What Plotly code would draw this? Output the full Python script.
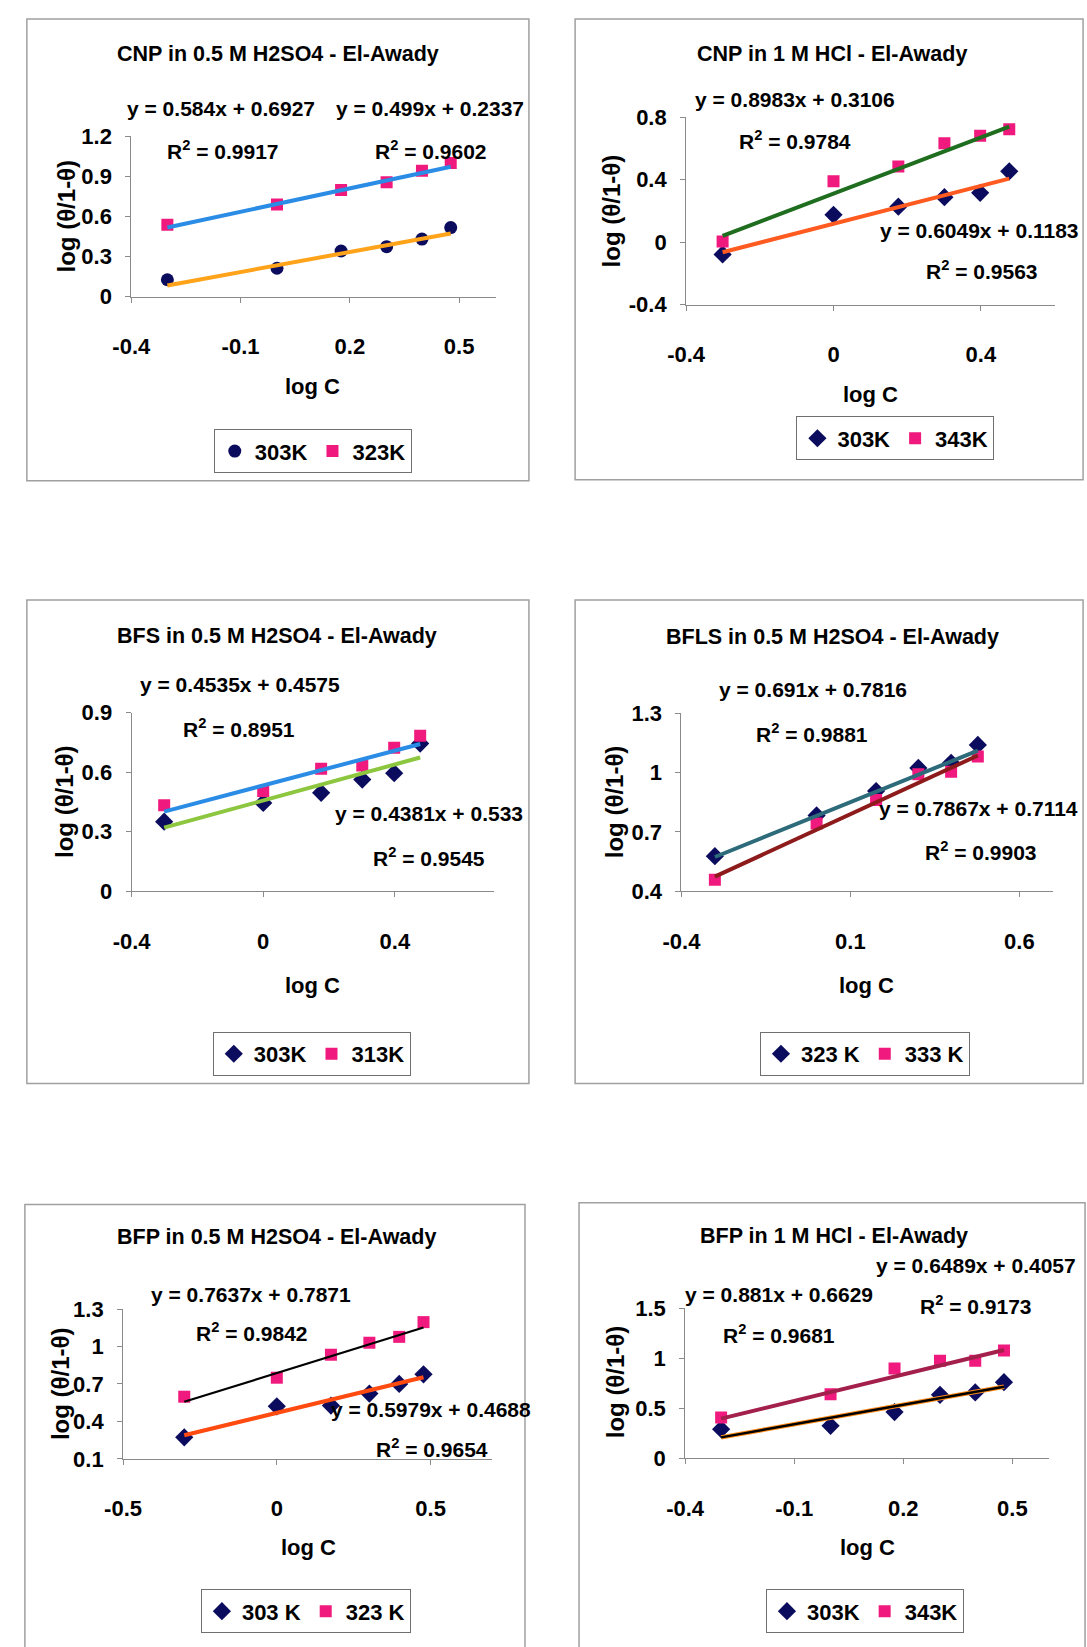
import plotly.graph_objects as go

W, H = 1087, 1647

# ---------------- data ----------------
logC = [-0.301, 0.0, 0.176, 0.301, 0.398, 0.477]

cnp_h2so4_303K = [0.126, 0.212, 0.341, 0.373, 0.430, 0.516]
cnp_h2so4_323K = [0.538, 0.689, 0.797, 0.854, 0.941, 0.998]
cnp_hcl_303K = [-0.078, 0.175, 0.227, 0.288, 0.316, 0.453]
cnp_hcl_343K = [0.004, 0.389, 0.484, 0.632, 0.680, 0.722]
bfs_h2so4_303K = [0.351, 0.445, 0.496, 0.563, 0.595, 0.744]
bfs_h2so4_313K = [0.434, 0.505, 0.617, 0.634, 0.723, 0.783]
bfls_h2so4_323K = [0.578, 0.784, 0.907, 1.024, 1.050, 1.140]
bfls_h2so4_333K = [0.459, 0.743, 0.862, 0.992, 1.005, 1.081]
bfp_h2so4_303K = [0.273, 0.521, 0.527, 0.623, 0.700, 0.777]
bfp_h2so4_323K = [0.598, 0.750, 0.934, 1.030, 1.077, 1.195]
bfp_hcl_303K = [0.292, 0.326, 0.463, 0.635, 0.659, 0.762]
bfp_hcl_343K = [0.408, 0.642, 0.899, 0.975, 0.975, 1.078]

# trendline equations printed on the chart: (slope, intercept, R2)
eq_cnp_h2so4_303K = (0.499, 0.2337, 0.9602)
eq_cnp_h2so4_323K = (0.584, 0.6927, 0.9917)
eq_cnp_hcl_303K = (0.6049, 0.1183, 0.9563)
eq_cnp_hcl_343K = (0.8983, 0.3106, 0.9784)
eq_bfs_h2so4_303K = (0.4535, 0.4575, 0.8951)
eq_bfs_h2so4_313K = (0.4381, 0.533, 0.9545)
eq_bfls_h2so4_323K = (0.691, 0.7816, 0.9881)
eq_bfls_h2so4_333K = (0.7867, 0.7114, 0.9903)
eq_bfp_h2so4_303K = (0.5979, 0.4688, 0.9654)
eq_bfp_h2so4_323K = (0.7637, 0.7871, 0.9842)
eq_bfp_hcl_303K = (0.6489, 0.4057, 0.9173)
eq_bfp_hcl_343K = (0.881, 0.6629, 0.9681)

titles = ["CNP in 0.5 M H2SO4 - El-Awady", "CNP in 1 M HCl - El-Awady",
          "BFS in 0.5 M H2SO4 - El-Awady", "BFLS in 0.5 M H2SO4 - El-Awady",
          "BFP in 0.5 M H2SO4 - El-Awady", "BFP in 1 M HCl - El-Awady"]

p1_xticks = [-0.4, -0.1, 0.2, 0.5]; p1_xlabels = ["-0.4", "-0.1", "0.2", "0.5"]
p1_yticks = [0, 0.3, 0.6, 0.9, 1.2]; p1_ylabels = ["0", "0.3", "0.6", "0.9", "1.2"]
p2_xticks = [-0.4, 0, 0.4]; p2_xlabels = ["-0.4", "0", "0.4"]
p2_yticks = [-0.4, 0, 0.4, 0.8]; p2_ylabels = ["-0.4", "0", "0.4", "0.8"]
p3_xticks = [-0.4, 0, 0.4]; p3_xlabels = ["-0.4", "0", "0.4"]
p3_yticks = [0, 0.3, 0.6, 0.9]; p3_ylabels = ["0", "0.3", "0.6", "0.9"]
p4_xticks = [-0.4, 0.1, 0.6]; p4_xlabels = ["-0.4", "0.1", "0.6"]
p4_yticks = [0.4, 0.7, 1.0, 1.3]; p4_ylabels = ["0.4", "0.7", "1", "1.3"]
p5_xticks = [-0.5, 0, 0.5]; p5_xlabels = ["-0.5", "0", "0.5"]
p5_yticks = [0.1, 0.4, 0.7, 1.0, 1.3]; p5_ylabels = ["0.1", "0.4", "0.7", "1", "1.3"]
p6_xticks = [-0.4, -0.1, 0.2, 0.5]; p6_xlabels = ["-0.4", "-0.1", "0.2", "0.5"]
p6_yticks = [0, 0.5, 1.0, 1.5]; p6_ylabels = ["0", "0.5", "1", "1.5"]

# ---------------- styles ----------------
NAVY = "#0C0C5E"
PINK = "#F0197D"
FONT = "Arial, Liberation Sans, sans-serif"
FS_TITLE = 21.5
FS_EQ = 21
FS_TICK = 22
FS_AXT = 22
FS_YT = 24
FS_LEG = 22
AX = "#8A8A8A"
BOX = "#A0A0A0"


def eqtext(e):
    return f"y = {e[0]}x + {e[1]}"


def r2text(e):
    return f"R<sup>2</sup> = {e[2]}"


panels = [
    dict(box=(8, 7, 519, 476), plot=(114.3, 126, 485, 289), xr=[-0.4, 0.6], yr=[0, 1.2],
         xt=(p1_xticks, p1_xlabels), yt=(p1_yticks, p1_ylabels), title=(263.7, 43),
         ytitle=(48, 207.5), xtitle=(299, 380), legend=(299, 446),
         series=[("303K", cnp_h2so4_303K, "circle", 13, eq_cnp_h2so4_303K, [("#FFA31A", 4)]),
                 ("323K", cnp_h2so4_323K, "square", 12, eq_cnp_h2so4_323K, [("#2B8CE6", 4)])],
         notes=[(eqtext(eq_cnp_h2so4_323K), 206, 98), (r2text(eq_cnp_h2so4_323K), 208, 140),
                (eqtext(eq_cnp_h2so4_303K), 418, 98), (r2text(eq_cnp_h2so4_303K), 419, 140)]),
    dict(box=(566, 7, 1083, 475), plot=(679, 106.7, 1054, 297.3), xr=[-0.4, 0.6], yr=[-0.4, 0.8],
         xt=(p2_xticks, p2_xlabels), yt=(p2_yticks, p2_ylabels), title=(827, 43),
         ytitle=(603, 202), xtitle=(867, 388), legend=(892, 433),
         series=[("303K", cnp_hcl_303K, "diamond", 14, eq_cnp_hcl_303K, [("#FF5A1F", 4)]),
                 ("343K", cnp_hcl_343K, "square", 12, eq_cnp_hcl_343K, [("#1F6E1F", 4)])],
         notes=[(eqtext(eq_cnp_hcl_343K), 790, 89), (r2text(eq_cnp_hcl_343K), 790, 130),
                (eqtext(eq_cnp_hcl_303K), 978, 222), (r2text(eq_cnp_hcl_303K), 980, 262)]),
    dict(box=(8, 597, 519, 1088), plot=(114.6, 711.4, 483, 892.9), xr=[-0.4, 0.7], yr=[0, 0.9],
         xt=(p3_xticks, p3_xlabels), yt=(p3_yticks, p3_ylabels), title=(263, 634),
         ytitle=(47, 802), xtitle=(299, 988), legend=(298, 1058),
         series=[("303K", bfs_h2so4_303K, "diamond", 14, eq_bfs_h2so4_303K, [("#8DC63F", 4)]),
                 ("313K", bfs_h2so4_313K, "square", 12, eq_bfs_h2so4_313K, [("#2B8CE6", 4)])],
         notes=[(eqtext(eq_bfs_h2so4_303K), 225, 683), (r2text(eq_bfs_h2so4_303K), 224, 727),
                (eqtext(eq_bfs_h2so4_313K), 417, 814), (r2text(eq_bfs_h2so4_313K), 417, 858)]),
    dict(box=(566, 597, 1083, 1088), plot=(674.2, 712.1, 1052.6, 892.9), xr=[-0.4, 0.7], yr=[0.4, 1.3],
         xt=(p4_xticks, p4_xlabels), yt=(p4_yticks, p4_ylabels), title=(828, 635),
         ytitle=(606, 802), xtitle=(863, 988), legend=(861, 1058),
         series=[("323 K", bfls_h2so4_323K, "diamond", 14, eq_bfls_h2so4_323K, [("#2D6B7B", 4)]),
                 ("333 K", bfls_h2so4_333K, "square", 12, eq_bfls_h2so4_333K, [("#8E1B1B", 4)])],
         notes=[(eqtext(eq_bfls_h2so4_323K), 808, 688), (r2text(eq_bfls_h2so4_323K), 807, 732),
                (eqtext(eq_bfls_h2so4_333K), 977, 809), (r2text(eq_bfls_h2so4_333K), 979, 852)]),
    dict(box=(6, 1211, 515, 1700), plot=(105.9, 1317, 481.5, 1469.2), xr=[-0.5, 0.7], yr=[0.1, 1.3],
         xt=(p5_xticks, p5_xlabels), yt=(p5_yticks, p5_ylabels), title=(262.5, 1244),
         ytitle=(43, 1393), xtitle=(295, 1559), legend=(292, 1624),
         series=[("303 K", bfp_h2so4_303K, "diamond", 14, eq_bfp_h2so4_303K, [("#FF4A10", 4)]),
                 ("323 K", bfp_h2so4_323K, "square", 12, eq_bfp_h2so4_323K, [("#000000", 2.2)])],
         notes=[(eqtext(eq_bfp_h2so4_323K), 236, 1302), (r2text(eq_bfp_h2so4_323K), 237, 1340),
                (eqtext(eq_bfp_h2so4_303K), 419, 1419), (r2text(eq_bfp_h2so4_303K), 420, 1458)]),
    dict(box=(570, 1209, 1085, 1700), plot=(678, 1316.3, 1048, 1468.7), xr=[-0.4, 0.6], yr=[0, 1.5],
         xt=(p6_xticks, p6_xlabels), yt=(p6_yticks, p6_ylabels), title=(829, 1243),
         ytitle=(607, 1391), xtitle=(864, 1559), legend=(861, 1624),
         series=[("303K", bfp_hcl_303K, "diamond", 14, eq_bfp_hcl_303K, [("#FF8C1A", 4.5), ("#000000", 2.5)]),
                 ("343K", bfp_hcl_343K, "square", 12, eq_bfp_hcl_343K, [("#A3204D", 4)])],
         notes=[(eqtext(eq_bfp_hcl_303K), 974, 1273), (r2text(eq_bfp_hcl_303K), 974, 1313),
                (eqtext(eq_bfp_hcl_343K), 774, 1302), (r2text(eq_bfp_hcl_343K), 774, 1342)]),
]

fig = go.Figure()
shapes, annotations = [], []
layout = dict(width=W, height=H, autosize=False, margin=dict(l=0, r=0, t=0, b=0),
              paper_bgcolor="white", plot_bgcolor="white",
              font=dict(family=FONT, size=FS_EQ, color="black", weight="bold"))


def px(x):
    return x / W


def py(y):
    return 1 - y / H


for i, p in enumerate(panels):
    k = "" if i == 0 else str(i + 1)
    xa, ya = "x" + k, "y" + k
    lg = "legend" if i == 0 else "legend" + str(i + 1)
    x0, y0, x1, y1 = p["plot"]
    common = dict(showline=True, linecolor=AX, linewidth=1, ticks="outside", ticklen=5,
                  tickcolor=AX, tickwidth=1, showgrid=False, zeroline=False, fixedrange=True,
                  tickfont=dict(family=FONT, size=FS_TICK, color="black", weight="bold"))
    layout["xaxis" + k] = dict(domain=[px(x0), px(x1)], anchor=ya, range=p["xr"],
                               tickvals=p["xt"][0], ticktext=p["xt"][1],
                               ticklabelstandoff=25, **common)
    layout["yaxis" + k] = dict(domain=[py(y1), py(y0)], anchor=xa, range=p["yr"],
                               tickvals=p["yt"][0], ticktext=p["yt"][1],
                               ticklabelstandoff=9, **common)
    for name, vals, sym, size, eq, lines in p["series"]:
        col = NAVY if sym in ("circle", "diamond") else PINK
        fig.add_trace(go.Scatter(x=logC, y=vals, mode="markers", name=name, legend=lg,
                                 xaxis=xa, yaxis=ya,
                                 marker=dict(symbol=sym, size=size, color=col, line=dict(width=0))))
    for name, vals, sym, size, eq, lines in p["series"]:
        xs = [min(logC), max(logC)]
        ys = [eq[0] * xv + eq[1] for xv in xs]
        for col, w in lines:
            fig.add_trace(go.Scatter(x=xs, y=ys, mode="lines", showlegend=False, hoverinfo="skip",
                                     xaxis=xa, yaxis=ya, line=dict(color=col, width=w)))
    lx, ly = p["legend"]
    layout[lg] = dict(x=px(lx), y=py(ly), xanchor="center", yanchor="middle", orientation="h",
                      bordercolor="#707070", borderwidth=1, bgcolor="white",
                      font=dict(family=FONT, size=FS_LEG, color="black", weight="bold"),
                      itemwidth=30, tracegroupgap=0)
    bx0, by0, bx1, by1 = p["box"]
    shapes.append(dict(type="rect", xref="paper", yref="paper", x0=px(bx0), x1=px(bx1),
                       y0=py(by1), y1=py(by0), line=dict(color=BOX, width=1.5), layer="below"))
    tx, ty = p["title"]
    annotations.append(dict(text=titles[i], x=px(tx), y=py(ty), xref="paper", yref="paper",
                            xanchor="center", yanchor="middle", showarrow=False,
                            font=dict(size=FS_TITLE)))
    ax_, ay_ = p["ytitle"]
    annotations.append(dict(text="log (θ/1-θ)", x=px(ax_), y=py(ay_), xref="paper", yref="paper",
                            xanchor="center", yanchor="middle", showarrow=False, textangle=-90,
                            font=dict(size=FS_YT)))
    cx, cy = p["xtitle"]
    annotations.append(dict(text="log C", x=px(cx), y=py(cy), xref="paper", yref="paper",
                            xanchor="center", yanchor="middle", showarrow=False,
                            font=dict(size=FS_AXT)))
    for txt, nx, ny in p["notes"]:
        annotations.append(dict(text=txt, x=px(nx), y=py(ny), xref="paper", yref="paper",
                                xanchor="center", yanchor="middle", showarrow=False,
                                font=dict(size=FS_EQ)))

layout["shapes"] = shapes
layout["annotations"] = annotations
fig.update_layout(**layout)
fig.write_html("out.html", config={"displayModeBar": False},
               post_script="document.body.style.margin='0px';document.body.style.overflow='hidden';")
